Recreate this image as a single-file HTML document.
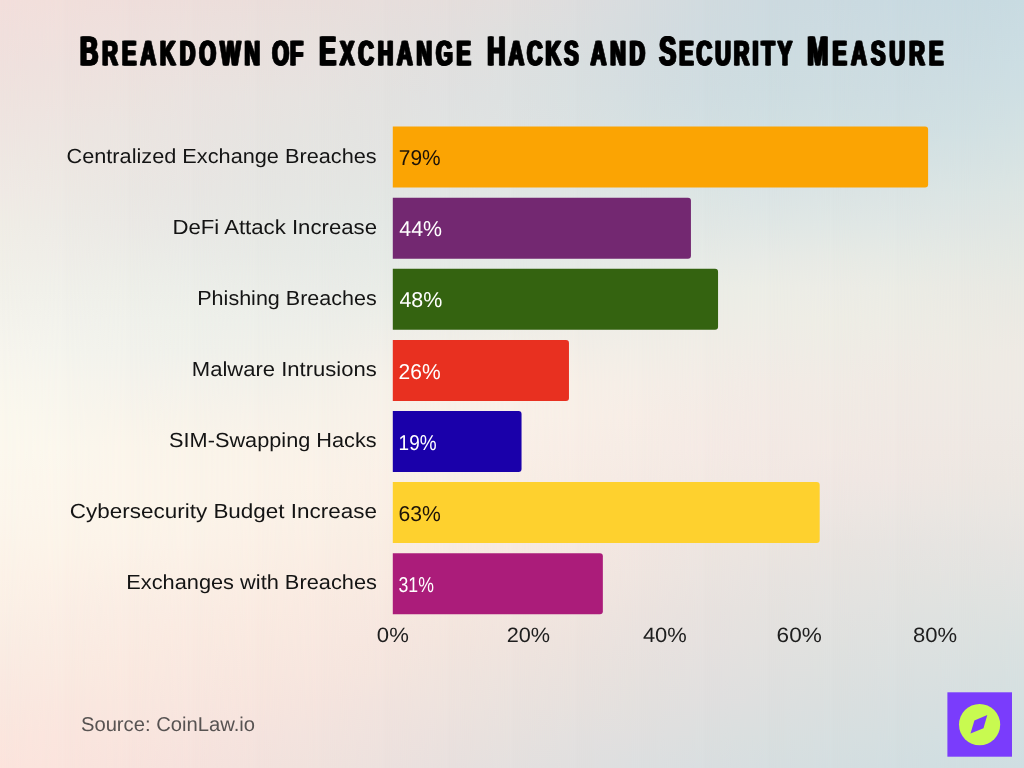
<!DOCTYPE html>
<html lang="en"><head><meta charset="utf-8"><title>Breakdown of Exchange Hacks and Security Measure</title>
<style>
html,body{margin:0;padding:0;background:#EDE6E2;}
body{width:1024px;height:768px;overflow:hidden;}
svg{display:block}
text{font-family:"Liberation Sans",sans-serif;text-rendering:geometricPrecision;}
.ttl{font-weight:700;font-size:40.8px;fill:#060606;stroke:#060606;stroke-width:0.8px;stroke-linejoin:miter;stroke-miterlimit:1.5;}
.ttl .sc{font-size:34.7px;text-transform:uppercase;}
.lab{font-size:20.4px;fill:#141414;}
.val{font-size:21.5px;}
.ax{font-size:20.7px;fill:#1e1e1e;}
.src{font-size:20.0px;fill:#575352;}
</style></head><body>
<svg width="1024" height="768" viewBox="0 0 1024 768" role="img" aria-label="Breakdown of Exchange Hacks and Security Measure">
<defs>
<linearGradient id="c0" x1="0" y1="0" x2="0" y2="1"><stop offset="0.0000" stop-color="#F3DFDC"/><stop offset="0.0417" stop-color="#F1E0DD"/><stop offset="0.0833" stop-color="#F0E1DE"/><stop offset="0.1250" stop-color="#EFE3DF"/><stop offset="0.1667" stop-color="#EFE5E1"/><stop offset="0.2083" stop-color="#EFE8E3"/><stop offset="0.2500" stop-color="#F0EAE5"/><stop offset="0.2917" stop-color="#F0EDE6"/><stop offset="0.3333" stop-color="#F1EFE8"/><stop offset="0.3750" stop-color="#F2F1EA"/><stop offset="0.4167" stop-color="#F4F3EC"/><stop offset="0.4583" stop-color="#F7F5EE"/><stop offset="0.5000" stop-color="#F9F7EE"/><stop offset="0.5417" stop-color="#FBF8EE"/><stop offset="0.5833" stop-color="#FCF8EE"/><stop offset="0.6250" stop-color="#FCF7ED"/><stop offset="0.6667" stop-color="#FCF6EC"/><stop offset="0.7083" stop-color="#FCF4EA"/><stop offset="0.7500" stop-color="#FCF2E8"/><stop offset="0.7917" stop-color="#FBF0E6"/><stop offset="0.8333" stop-color="#FAEDE4"/><stop offset="0.8750" stop-color="#FAEAE2"/><stop offset="0.9167" stop-color="#FAE8E0"/><stop offset="0.9583" stop-color="#FBE6DE"/><stop offset="1.0000" stop-color="#FCE4DD"/></linearGradient>
<linearGradient id="c1" x1="0" y1="0" x2="0" y2="1"><stop offset="0.0000" stop-color="#F1DFDB"/><stop offset="0.0417" stop-color="#F0E0DD"/><stop offset="0.0833" stop-color="#EEE1DE"/><stop offset="0.1250" stop-color="#EEE3DF"/><stop offset="0.1667" stop-color="#EDE5E1"/><stop offset="0.2083" stop-color="#EDE7E2"/><stop offset="0.2500" stop-color="#EDE9E4"/><stop offset="0.2917" stop-color="#EDEBE6"/><stop offset="0.3333" stop-color="#EFEDE8"/><stop offset="0.3750" stop-color="#F0F0EA"/><stop offset="0.4167" stop-color="#F2F2EC"/><stop offset="0.4583" stop-color="#F4F4ED"/><stop offset="0.5000" stop-color="#F7F5ED"/><stop offset="0.5417" stop-color="#F9F6ED"/><stop offset="0.5833" stop-color="#FBF7ED"/><stop offset="0.6250" stop-color="#FCF6EC"/><stop offset="0.6667" stop-color="#FCF5EB"/><stop offset="0.7083" stop-color="#FCF4E9"/><stop offset="0.7500" stop-color="#FCF1E7"/><stop offset="0.7917" stop-color="#FBEEE5"/><stop offset="0.8333" stop-color="#FAECE3"/><stop offset="0.8750" stop-color="#FAEAE1"/><stop offset="0.9167" stop-color="#FAE7DF"/><stop offset="0.9583" stop-color="#FAE5DE"/><stop offset="1.0000" stop-color="#FAE4DD"/></linearGradient>
<linearGradient id="g1" gradientUnits="userSpaceOnUse" x1="0" y1="0" x2="64" y2="0"><stop offset="0" stop-color="#000"/><stop offset="1" stop-color="#fff"/></linearGradient>
<mask id="m1" maskUnits="userSpaceOnUse" x="0" y="0" width="1024" height="768"><rect x="0" width="1024" height="768" fill="url(#g1)"/></mask>
<linearGradient id="c2" x1="0" y1="0" x2="0" y2="1"><stop offset="0.0000" stop-color="#EFDEDB"/><stop offset="0.0417" stop-color="#EEE0DD"/><stop offset="0.0833" stop-color="#EDE1DE"/><stop offset="0.1250" stop-color="#ECE3DF"/><stop offset="0.1667" stop-color="#EBE5E1"/><stop offset="0.2083" stop-color="#EBE6E2"/><stop offset="0.2500" stop-color="#EAE7E3"/><stop offset="0.2917" stop-color="#EBE9E5"/><stop offset="0.3333" stop-color="#ECECE7"/><stop offset="0.3750" stop-color="#EEEFE9"/><stop offset="0.4167" stop-color="#F0F1EB"/><stop offset="0.4583" stop-color="#F2F2EC"/><stop offset="0.5000" stop-color="#F5F3EC"/><stop offset="0.5417" stop-color="#F8F4EB"/><stop offset="0.5833" stop-color="#FBF5EB"/><stop offset="0.6250" stop-color="#FCF5EB"/><stop offset="0.6667" stop-color="#FCF5EA"/><stop offset="0.7083" stop-color="#FCF3E9"/><stop offset="0.7500" stop-color="#FBF0E6"/><stop offset="0.7917" stop-color="#FAEDE4"/><stop offset="0.8333" stop-color="#FAEBE2"/><stop offset="0.8750" stop-color="#FAE9E0"/><stop offset="0.9167" stop-color="#F9E7DF"/><stop offset="0.9583" stop-color="#F9E5DE"/><stop offset="1.0000" stop-color="#F8E3DD"/></linearGradient>
<linearGradient id="g2" gradientUnits="userSpaceOnUse" x1="64" y1="0" x2="128" y2="0"><stop offset="0" stop-color="#000"/><stop offset="1" stop-color="#fff"/></linearGradient>
<mask id="m2" maskUnits="userSpaceOnUse" x="64" y="0" width="960" height="768"><rect x="64" width="960" height="768" fill="url(#g2)"/></mask>
<linearGradient id="c3" x1="0" y1="0" x2="0" y2="1"><stop offset="0.0000" stop-color="#EDDEDB"/><stop offset="0.0417" stop-color="#ECE0DD"/><stop offset="0.0833" stop-color="#EBE1DE"/><stop offset="0.1250" stop-color="#EAE3E0"/><stop offset="0.1667" stop-color="#E9E4E1"/><stop offset="0.2083" stop-color="#E9E5E2"/><stop offset="0.2500" stop-color="#E8E6E3"/><stop offset="0.2917" stop-color="#E8E8E5"/><stop offset="0.3333" stop-color="#EAEBE7"/><stop offset="0.3750" stop-color="#ECEEE9"/><stop offset="0.4167" stop-color="#EEF0EA"/><stop offset="0.4583" stop-color="#F0F1EB"/><stop offset="0.5000" stop-color="#F4F2EB"/><stop offset="0.5417" stop-color="#F7F3EA"/><stop offset="0.5833" stop-color="#FAF4EA"/><stop offset="0.6250" stop-color="#FBF4EA"/><stop offset="0.6667" stop-color="#FBF4E9"/><stop offset="0.7083" stop-color="#FBF2E8"/><stop offset="0.7500" stop-color="#FBEFE5"/><stop offset="0.7917" stop-color="#FAECE3"/><stop offset="0.8333" stop-color="#FAEAE1"/><stop offset="0.8750" stop-color="#F9E8E0"/><stop offset="0.9167" stop-color="#F8E6DF"/><stop offset="0.9583" stop-color="#F7E4DE"/><stop offset="1.0000" stop-color="#F6E2DD"/></linearGradient>
<linearGradient id="g3" gradientUnits="userSpaceOnUse" x1="128" y1="0" x2="192" y2="0"><stop offset="0" stop-color="#000"/><stop offset="1" stop-color="#fff"/></linearGradient>
<mask id="m3" maskUnits="userSpaceOnUse" x="128" y="0" width="896" height="768"><rect x="128" width="896" height="768" fill="url(#g3)"/></mask>
<linearGradient id="c4" x1="0" y1="0" x2="0" y2="1"><stop offset="0.0000" stop-color="#EBDEDB"/><stop offset="0.0417" stop-color="#EAE0DD"/><stop offset="0.0833" stop-color="#E9E1DE"/><stop offset="0.1250" stop-color="#E8E3E0"/><stop offset="0.1667" stop-color="#E7E4E1"/><stop offset="0.2083" stop-color="#E6E5E2"/><stop offset="0.2500" stop-color="#E6E6E3"/><stop offset="0.2917" stop-color="#E7E8E4"/><stop offset="0.3333" stop-color="#E8EAE6"/><stop offset="0.3750" stop-color="#EBEDE8"/><stop offset="0.4167" stop-color="#EDEFEA"/><stop offset="0.4583" stop-color="#F0F0EA"/><stop offset="0.5000" stop-color="#F3F1EA"/><stop offset="0.5417" stop-color="#F7F2EA"/><stop offset="0.5833" stop-color="#FAF3E9"/><stop offset="0.6250" stop-color="#FBF3E9"/><stop offset="0.6667" stop-color="#FBF2E8"/><stop offset="0.7083" stop-color="#FBF0E6"/><stop offset="0.7500" stop-color="#FAEEE4"/><stop offset="0.7917" stop-color="#FAEBE2"/><stop offset="0.8333" stop-color="#F9E9E0"/><stop offset="0.8750" stop-color="#F8E7DF"/><stop offset="0.9167" stop-color="#F7E5DE"/><stop offset="0.9583" stop-color="#F5E3DE"/><stop offset="1.0000" stop-color="#F3E2DD"/></linearGradient>
<linearGradient id="g4" gradientUnits="userSpaceOnUse" x1="192" y1="0" x2="256" y2="0"><stop offset="0" stop-color="#000"/><stop offset="1" stop-color="#fff"/></linearGradient>
<mask id="m4" maskUnits="userSpaceOnUse" x="192" y="0" width="832" height="768"><rect x="192" width="832" height="768" fill="url(#g4)"/></mask>
<linearGradient id="c5" x1="0" y1="0" x2="0" y2="1"><stop offset="0.0000" stop-color="#E9DEDB"/><stop offset="0.0417" stop-color="#E8E0DD"/><stop offset="0.0833" stop-color="#E7E1DF"/><stop offset="0.1250" stop-color="#E6E3E0"/><stop offset="0.1667" stop-color="#E5E4E1"/><stop offset="0.2083" stop-color="#E5E5E2"/><stop offset="0.2500" stop-color="#E5E6E3"/><stop offset="0.2917" stop-color="#E5E8E5"/><stop offset="0.3333" stop-color="#E7EAE6"/><stop offset="0.3750" stop-color="#EAECE8"/><stop offset="0.4167" stop-color="#EDEEE9"/><stop offset="0.4583" stop-color="#F0F0E9"/><stop offset="0.5000" stop-color="#F4F1E9"/><stop offset="0.5417" stop-color="#F7F2E9"/><stop offset="0.5833" stop-color="#F9F2E9"/><stop offset="0.6250" stop-color="#FBF2E8"/><stop offset="0.6667" stop-color="#FAF1E7"/><stop offset="0.7083" stop-color="#FAEFE5"/><stop offset="0.7500" stop-color="#FAECE3"/><stop offset="0.7917" stop-color="#F9EAE1"/><stop offset="0.8333" stop-color="#F8E8E0"/><stop offset="0.8750" stop-color="#F7E6DF"/><stop offset="0.9167" stop-color="#F5E4DE"/><stop offset="0.9583" stop-color="#F2E3DE"/><stop offset="1.0000" stop-color="#F0E2DD"/></linearGradient>
<linearGradient id="g5" gradientUnits="userSpaceOnUse" x1="256" y1="0" x2="320" y2="0"><stop offset="0" stop-color="#000"/><stop offset="1" stop-color="#fff"/></linearGradient>
<mask id="m5" maskUnits="userSpaceOnUse" x="256" y="0" width="768" height="768"><rect x="256" width="768" height="768" fill="url(#g5)"/></mask>
<linearGradient id="c6" x1="0" y1="0" x2="0" y2="1"><stop offset="0.0000" stop-color="#E7DEDC"/><stop offset="0.0417" stop-color="#E5DFDD"/><stop offset="0.0833" stop-color="#E4E1DF"/><stop offset="0.1250" stop-color="#E3E2E0"/><stop offset="0.1667" stop-color="#E3E3E1"/><stop offset="0.2083" stop-color="#E3E4E2"/><stop offset="0.2500" stop-color="#E3E6E3"/><stop offset="0.2917" stop-color="#E4E8E5"/><stop offset="0.3333" stop-color="#E6EAE6"/><stop offset="0.3750" stop-color="#E9ECE7"/><stop offset="0.4167" stop-color="#EDEEE8"/><stop offset="0.4583" stop-color="#F2EFE9"/><stop offset="0.5000" stop-color="#F6F1E9"/><stop offset="0.5417" stop-color="#F8F1E9"/><stop offset="0.5833" stop-color="#F9F1E8"/><stop offset="0.6250" stop-color="#FAF0E7"/><stop offset="0.6667" stop-color="#FAEFE5"/><stop offset="0.7083" stop-color="#F9EDE3"/><stop offset="0.7500" stop-color="#F9EBE2"/><stop offset="0.7917" stop-color="#F7E8E0"/><stop offset="0.8333" stop-color="#F6E6DF"/><stop offset="0.8750" stop-color="#F4E5DE"/><stop offset="0.9167" stop-color="#F1E3DE"/><stop offset="0.9583" stop-color="#EFE2DE"/><stop offset="1.0000" stop-color="#ECE1DE"/></linearGradient>
<linearGradient id="g6" gradientUnits="userSpaceOnUse" x1="320" y1="0" x2="384" y2="0"><stop offset="0" stop-color="#000"/><stop offset="1" stop-color="#fff"/></linearGradient>
<mask id="m6" maskUnits="userSpaceOnUse" x="320" y="0" width="704" height="768"><rect x="320" width="704" height="768" fill="url(#g6)"/></mask>
<linearGradient id="c7" x1="0" y1="0" x2="0" y2="1"><stop offset="0.0000" stop-color="#E5DEDC"/><stop offset="0.0417" stop-color="#E3DFDE"/><stop offset="0.0833" stop-color="#E1E0DF"/><stop offset="0.1250" stop-color="#E0E1E1"/><stop offset="0.1667" stop-color="#E0E3E2"/><stop offset="0.2083" stop-color="#E1E4E3"/><stop offset="0.2500" stop-color="#E2E6E4"/><stop offset="0.2917" stop-color="#E3E8E5"/><stop offset="0.3333" stop-color="#E5EAE6"/><stop offset="0.3750" stop-color="#E8EBE7"/><stop offset="0.4167" stop-color="#EDEDE8"/><stop offset="0.4583" stop-color="#F3EFE8"/><stop offset="0.5000" stop-color="#F7F0E8"/><stop offset="0.5417" stop-color="#F9F1E8"/><stop offset="0.5833" stop-color="#F9F0E7"/><stop offset="0.6250" stop-color="#F9EFE6"/><stop offset="0.6667" stop-color="#F9EDE4"/><stop offset="0.7083" stop-color="#F8EBE2"/><stop offset="0.7500" stop-color="#F7E9E1"/><stop offset="0.7917" stop-color="#F5E7DF"/><stop offset="0.8333" stop-color="#F3E5DE"/><stop offset="0.8750" stop-color="#F0E4DE"/><stop offset="0.9167" stop-color="#EEE3DE"/><stop offset="0.9583" stop-color="#EBE1DE"/><stop offset="1.0000" stop-color="#E8E0DE"/></linearGradient>
<linearGradient id="g7" gradientUnits="userSpaceOnUse" x1="384" y1="0" x2="448" y2="0"><stop offset="0" stop-color="#000"/><stop offset="1" stop-color="#fff"/></linearGradient>
<mask id="m7" maskUnits="userSpaceOnUse" x="384" y="0" width="640" height="768"><rect x="384" width="640" height="768" fill="url(#g7)"/></mask>
<linearGradient id="c8" x1="0" y1="0" x2="0" y2="1"><stop offset="0.0000" stop-color="#E2DEDD"/><stop offset="0.0417" stop-color="#DFDFDE"/><stop offset="0.0833" stop-color="#DEE0E0"/><stop offset="0.1250" stop-color="#DDE1E1"/><stop offset="0.1667" stop-color="#DEE2E2"/><stop offset="0.2083" stop-color="#DFE4E3"/><stop offset="0.2500" stop-color="#E1E6E4"/><stop offset="0.2917" stop-color="#E2E8E5"/><stop offset="0.3333" stop-color="#E4EAE6"/><stop offset="0.3750" stop-color="#E8EBE6"/><stop offset="0.4167" stop-color="#EDEDE7"/><stop offset="0.4583" stop-color="#F4EFE8"/><stop offset="0.5000" stop-color="#F8F0E8"/><stop offset="0.5417" stop-color="#F9F0E8"/><stop offset="0.5833" stop-color="#F9EFE7"/><stop offset="0.6250" stop-color="#F8EDE5"/><stop offset="0.6667" stop-color="#F8EBE3"/><stop offset="0.7083" stop-color="#F7E9E1"/><stop offset="0.7500" stop-color="#F6E8E0"/><stop offset="0.7917" stop-color="#F3E6DF"/><stop offset="0.8333" stop-color="#F0E4DE"/><stop offset="0.8750" stop-color="#EDE3DE"/><stop offset="0.9167" stop-color="#EAE2DE"/><stop offset="0.9583" stop-color="#E7E1DE"/><stop offset="1.0000" stop-color="#E4E0DF"/></linearGradient>
<linearGradient id="g8" gradientUnits="userSpaceOnUse" x1="448" y1="0" x2="512" y2="0"><stop offset="0" stop-color="#000"/><stop offset="1" stop-color="#fff"/></linearGradient>
<mask id="m8" maskUnits="userSpaceOnUse" x="448" y="0" width="576" height="768"><rect x="448" width="576" height="768" fill="url(#g8)"/></mask>
<linearGradient id="c9" x1="0" y1="0" x2="0" y2="1"><stop offset="0.0000" stop-color="#DDDDDE"/><stop offset="0.0417" stop-color="#DBDEDF"/><stop offset="0.0833" stop-color="#D9DFE0"/><stop offset="0.1250" stop-color="#D9E0E1"/><stop offset="0.1667" stop-color="#DAE1E2"/><stop offset="0.2083" stop-color="#DCE3E3"/><stop offset="0.2500" stop-color="#DFE6E4"/><stop offset="0.2917" stop-color="#E2E8E5"/><stop offset="0.3333" stop-color="#E5EAE6"/><stop offset="0.3750" stop-color="#E8ECE6"/><stop offset="0.4167" stop-color="#EEEDE7"/><stop offset="0.4583" stop-color="#F3EEE7"/><stop offset="0.5000" stop-color="#F7EFE7"/><stop offset="0.5417" stop-color="#F8EFE7"/><stop offset="0.5833" stop-color="#F8EDE6"/><stop offset="0.6250" stop-color="#F7ECE4"/><stop offset="0.6667" stop-color="#F6EAE2"/><stop offset="0.7083" stop-color="#F5E8E1"/><stop offset="0.7500" stop-color="#F3E6E0"/><stop offset="0.7917" stop-color="#F0E5DF"/><stop offset="0.8333" stop-color="#EDE3DE"/><stop offset="0.8750" stop-color="#EAE2DE"/><stop offset="0.9167" stop-color="#E7E1DE"/><stop offset="0.9583" stop-color="#E3E0DF"/><stop offset="1.0000" stop-color="#E0DFDF"/></linearGradient>
<linearGradient id="g9" gradientUnits="userSpaceOnUse" x1="512" y1="0" x2="576" y2="0"><stop offset="0" stop-color="#000"/><stop offset="1" stop-color="#fff"/></linearGradient>
<mask id="m9" maskUnits="userSpaceOnUse" x="512" y="0" width="512" height="768"><rect x="512" width="512" height="768" fill="url(#g9)"/></mask>
<linearGradient id="c10" x1="0" y1="0" x2="0" y2="1"><stop offset="0.0000" stop-color="#D7DCDF"/><stop offset="0.0417" stop-color="#D5DCDF"/><stop offset="0.0833" stop-color="#D4DDE0"/><stop offset="0.1250" stop-color="#D4DEE1"/><stop offset="0.1667" stop-color="#D5E0E2"/><stop offset="0.2083" stop-color="#D9E3E3"/><stop offset="0.2500" stop-color="#DDE5E4"/><stop offset="0.2917" stop-color="#E1E8E5"/><stop offset="0.3333" stop-color="#E6EAE6"/><stop offset="0.3750" stop-color="#EAECE6"/><stop offset="0.4167" stop-color="#EEEDE7"/><stop offset="0.4583" stop-color="#F2EEE7"/><stop offset="0.5000" stop-color="#F5EEE7"/><stop offset="0.5417" stop-color="#F7EDE6"/><stop offset="0.5833" stop-color="#F6ECE5"/><stop offset="0.6250" stop-color="#F5EAE4"/><stop offset="0.6667" stop-color="#F3E8E2"/><stop offset="0.7083" stop-color="#F1E6E1"/><stop offset="0.7500" stop-color="#EFE5E0"/><stop offset="0.7917" stop-color="#ECE3DF"/><stop offset="0.8333" stop-color="#E9E2DF"/><stop offset="0.8750" stop-color="#E6E1DE"/><stop offset="0.9167" stop-color="#E3E0DE"/><stop offset="0.9583" stop-color="#E0DFDF"/><stop offset="1.0000" stop-color="#DCDFE0"/></linearGradient>
<linearGradient id="g10" gradientUnits="userSpaceOnUse" x1="576" y1="0" x2="640" y2="0"><stop offset="0" stop-color="#000"/><stop offset="1" stop-color="#fff"/></linearGradient>
<mask id="m10" maskUnits="userSpaceOnUse" x="576" y="0" width="448" height="768"><rect x="576" width="448" height="768" fill="url(#g10)"/></mask>
<linearGradient id="c11" x1="0" y1="0" x2="0" y2="1"><stop offset="0.0000" stop-color="#D1DBDF"/><stop offset="0.0417" stop-color="#D0DBE0"/><stop offset="0.0833" stop-color="#D0DCE0"/><stop offset="0.1250" stop-color="#D0DDE1"/><stop offset="0.1667" stop-color="#D2DFE2"/><stop offset="0.2083" stop-color="#D6E2E3"/><stop offset="0.2500" stop-color="#DCE5E4"/><stop offset="0.2917" stop-color="#E1E7E5"/><stop offset="0.3333" stop-color="#E6EAE6"/><stop offset="0.3750" stop-color="#EBEDE6"/><stop offset="0.4167" stop-color="#EEEDE6"/><stop offset="0.4583" stop-color="#F1EDE6"/><stop offset="0.5000" stop-color="#F3ECE6"/><stop offset="0.5417" stop-color="#F4EBE5"/><stop offset="0.5833" stop-color="#F5EAE5"/><stop offset="0.6250" stop-color="#F3E9E3"/><stop offset="0.6667" stop-color="#F1E7E2"/><stop offset="0.7083" stop-color="#EDE5E0"/><stop offset="0.7500" stop-color="#EBE4E0"/><stop offset="0.7917" stop-color="#E8E2DF"/><stop offset="0.8333" stop-color="#E6E1DF"/><stop offset="0.8750" stop-color="#E3E0DF"/><stop offset="0.9167" stop-color="#E0DFDF"/><stop offset="0.9583" stop-color="#DCDFDF"/><stop offset="1.0000" stop-color="#D9DEE0"/></linearGradient>
<linearGradient id="g11" gradientUnits="userSpaceOnUse" x1="640" y1="0" x2="704" y2="0"><stop offset="0" stop-color="#000"/><stop offset="1" stop-color="#fff"/></linearGradient>
<mask id="m11" maskUnits="userSpaceOnUse" x="640" y="0" width="384" height="768"><rect x="640" width="384" height="768" fill="url(#g11)"/></mask>
<linearGradient id="c12" x1="0" y1="0" x2="0" y2="1"><stop offset="0.0000" stop-color="#CDDAE0"/><stop offset="0.0417" stop-color="#CDDBE0"/><stop offset="0.0833" stop-color="#CDDCE0"/><stop offset="0.1250" stop-color="#CEDDE1"/><stop offset="0.1667" stop-color="#D0DFE2"/><stop offset="0.2083" stop-color="#D5E1E3"/><stop offset="0.2500" stop-color="#DBE4E5"/><stop offset="0.2917" stop-color="#E0E7E5"/><stop offset="0.3333" stop-color="#E7EAE6"/><stop offset="0.3750" stop-color="#ECEDE6"/><stop offset="0.4167" stop-color="#EEEDE6"/><stop offset="0.4583" stop-color="#F0ECE6"/><stop offset="0.5000" stop-color="#F2EBE5"/><stop offset="0.5417" stop-color="#F3EAE5"/><stop offset="0.5833" stop-color="#F3E9E4"/><stop offset="0.6250" stop-color="#F2E8E3"/><stop offset="0.6667" stop-color="#EEE6E2"/><stop offset="0.7083" stop-color="#EBE5E0"/><stop offset="0.7500" stop-color="#E8E3E0"/><stop offset="0.7917" stop-color="#E5E2DF"/><stop offset="0.8333" stop-color="#E3E1DF"/><stop offset="0.8750" stop-color="#E0E0DF"/><stop offset="0.9167" stop-color="#DDDFDF"/><stop offset="0.9583" stop-color="#D9DFDF"/><stop offset="1.0000" stop-color="#D6DEE0"/></linearGradient>
<linearGradient id="g12" gradientUnits="userSpaceOnUse" x1="704" y1="0" x2="768" y2="0"><stop offset="0" stop-color="#000"/><stop offset="1" stop-color="#fff"/></linearGradient>
<mask id="m12" maskUnits="userSpaceOnUse" x="704" y="0" width="320" height="768"><rect x="704" width="320" height="768" fill="url(#g12)"/></mask>
<linearGradient id="c13" x1="0" y1="0" x2="0" y2="1"><stop offset="0.0000" stop-color="#CBDAE0"/><stop offset="0.0417" stop-color="#CCDBE1"/><stop offset="0.0833" stop-color="#CDDCE1"/><stop offset="0.1250" stop-color="#CEDDE1"/><stop offset="0.1667" stop-color="#D0DFE2"/><stop offset="0.2083" stop-color="#D5E2E3"/><stop offset="0.2500" stop-color="#DBE4E4"/><stop offset="0.2917" stop-color="#E0E7E5"/><stop offset="0.3333" stop-color="#E7EAE5"/><stop offset="0.3750" stop-color="#ECECE6"/><stop offset="0.4167" stop-color="#EEEDE5"/><stop offset="0.4583" stop-color="#EFECE5"/><stop offset="0.5000" stop-color="#F1EBE5"/><stop offset="0.5417" stop-color="#F1EAE4"/><stop offset="0.5833" stop-color="#F2E9E4"/><stop offset="0.6250" stop-color="#F0E7E3"/><stop offset="0.6667" stop-color="#EDE6E2"/><stop offset="0.7083" stop-color="#E9E4E0"/><stop offset="0.7500" stop-color="#E6E3E0"/><stop offset="0.7917" stop-color="#E3E2E0"/><stop offset="0.8333" stop-color="#E0E1DF"/><stop offset="0.8750" stop-color="#DDE0DF"/><stop offset="0.9167" stop-color="#DADFDF"/><stop offset="0.9583" stop-color="#D7DFE0"/><stop offset="1.0000" stop-color="#D4DEE0"/></linearGradient>
<linearGradient id="g13" gradientUnits="userSpaceOnUse" x1="768" y1="0" x2="832" y2="0"><stop offset="0" stop-color="#000"/><stop offset="1" stop-color="#fff"/></linearGradient>
<mask id="m13" maskUnits="userSpaceOnUse" x="768" y="0" width="256" height="768"><rect x="768" width="256" height="768" fill="url(#g13)"/></mask>
<linearGradient id="c14" x1="0" y1="0" x2="0" y2="1"><stop offset="0.0000" stop-color="#C9DAE1"/><stop offset="0.0417" stop-color="#CBDBE1"/><stop offset="0.0833" stop-color="#CCDCE1"/><stop offset="0.1250" stop-color="#CEDDE2"/><stop offset="0.1667" stop-color="#D0DFE2"/><stop offset="0.2083" stop-color="#D5E2E3"/><stop offset="0.2500" stop-color="#DBE4E4"/><stop offset="0.2917" stop-color="#E0E7E5"/><stop offset="0.3333" stop-color="#E6EAE5"/><stop offset="0.3750" stop-color="#EBECE5"/><stop offset="0.4167" stop-color="#EDECE5"/><stop offset="0.4583" stop-color="#EFEBE5"/><stop offset="0.5000" stop-color="#F0EAE4"/><stop offset="0.5417" stop-color="#F0E9E4"/><stop offset="0.5833" stop-color="#F0E8E3"/><stop offset="0.6250" stop-color="#EFE7E3"/><stop offset="0.6667" stop-color="#EBE6E2"/><stop offset="0.7083" stop-color="#E7E4E1"/><stop offset="0.7500" stop-color="#E4E3E0"/><stop offset="0.7917" stop-color="#E1E2E0"/><stop offset="0.8333" stop-color="#DEE1E0"/><stop offset="0.8750" stop-color="#DBE0E0"/><stop offset="0.9167" stop-color="#D8DFE0"/><stop offset="0.9583" stop-color="#D5DFE0"/><stop offset="1.0000" stop-color="#D2DEE1"/></linearGradient>
<linearGradient id="g14" gradientUnits="userSpaceOnUse" x1="832" y1="0" x2="896" y2="0"><stop offset="0" stop-color="#000"/><stop offset="1" stop-color="#fff"/></linearGradient>
<mask id="m14" maskUnits="userSpaceOnUse" x="832" y="0" width="192" height="768"><rect x="832" width="192" height="768" fill="url(#g14)"/></mask>
<linearGradient id="c15" x1="0" y1="0" x2="0" y2="1"><stop offset="0.0000" stop-color="#C8DAE1"/><stop offset="0.0417" stop-color="#CADBE1"/><stop offset="0.0833" stop-color="#CCDCE2"/><stop offset="0.1250" stop-color="#CEDEE2"/><stop offset="0.1667" stop-color="#D1E0E3"/><stop offset="0.2083" stop-color="#D6E2E3"/><stop offset="0.2500" stop-color="#DBE5E4"/><stop offset="0.2917" stop-color="#E0E6E4"/><stop offset="0.3333" stop-color="#E5E9E4"/><stop offset="0.3750" stop-color="#EAEAE4"/><stop offset="0.4167" stop-color="#ECEBE4"/><stop offset="0.4583" stop-color="#EEEBE4"/><stop offset="0.5000" stop-color="#EFEAE4"/><stop offset="0.5417" stop-color="#EFE9E4"/><stop offset="0.5833" stop-color="#EFE8E3"/><stop offset="0.6250" stop-color="#EDE7E2"/><stop offset="0.6667" stop-color="#EAE6E2"/><stop offset="0.7083" stop-color="#E6E4E1"/><stop offset="0.7500" stop-color="#E3E3E0"/><stop offset="0.7917" stop-color="#DFE2E0"/><stop offset="0.8333" stop-color="#DCE1E0"/><stop offset="0.8750" stop-color="#D9E0E0"/><stop offset="0.9167" stop-color="#D6DFE0"/><stop offset="0.9583" stop-color="#D3DFE1"/><stop offset="1.0000" stop-color="#D0DEE1"/></linearGradient>
<linearGradient id="g15" gradientUnits="userSpaceOnUse" x1="896" y1="0" x2="960" y2="0"><stop offset="0" stop-color="#000"/><stop offset="1" stop-color="#fff"/></linearGradient>
<mask id="m15" maskUnits="userSpaceOnUse" x="896" y="0" width="128" height="768"><rect x="896" width="128" height="768" fill="url(#g15)"/></mask>
<linearGradient id="c16" x1="0" y1="0" x2="0" y2="1"><stop offset="0.0000" stop-color="#C8DBE1"/><stop offset="0.0417" stop-color="#CADCE2"/><stop offset="0.0833" stop-color="#CCDEE3"/><stop offset="0.1250" stop-color="#CFDFE3"/><stop offset="0.1667" stop-color="#D3E1E3"/><stop offset="0.2083" stop-color="#D7E3E3"/><stop offset="0.2500" stop-color="#DCE5E3"/><stop offset="0.2917" stop-color="#E0E6E3"/><stop offset="0.3333" stop-color="#E4E8E3"/><stop offset="0.3750" stop-color="#E8E9E3"/><stop offset="0.4167" stop-color="#EBE9E3"/><stop offset="0.4583" stop-color="#EEEAE4"/><stop offset="0.5000" stop-color="#EEEAE4"/><stop offset="0.5417" stop-color="#EEE9E4"/><stop offset="0.5833" stop-color="#EDE8E3"/><stop offset="0.6250" stop-color="#ECE7E2"/><stop offset="0.6667" stop-color="#E9E6E2"/><stop offset="0.7083" stop-color="#E6E4E1"/><stop offset="0.7500" stop-color="#E2E3E1"/><stop offset="0.7917" stop-color="#DEE2E0"/><stop offset="0.8333" stop-color="#DAE1E0"/><stop offset="0.8750" stop-color="#D7E0E0"/><stop offset="0.9167" stop-color="#D4E0E0"/><stop offset="0.9583" stop-color="#D1DFE1"/><stop offset="1.0000" stop-color="#CFDEE2"/></linearGradient>
<linearGradient id="g16" gradientUnits="userSpaceOnUse" x1="960" y1="0" x2="1024" y2="0"><stop offset="0" stop-color="#000"/><stop offset="1" stop-color="#fff"/></linearGradient>
<mask id="m16" maskUnits="userSpaceOnUse" x="960" y="0" width="64" height="768"><rect x="960" width="64" height="768" fill="url(#g16)"/></mask>
<filter id="fat" filterUnits="userSpaceOnUse" x="0" y="0" width="1100" height="100"><feOffset dx="0.78" result="a"/><feOffset in="SourceGraphic" dx="-0.78" result="b"/><feMerge><feMergeNode in="a"/><feMergeNode in="b"/><feMergeNode in="SourceGraphic"/></feMerge></filter>
</defs>
<rect width="1024" height="768" fill="url(#c0)"/>
<rect x="0" width="1024" height="768" fill="url(#c1)" mask="url(#m1)"/>
<rect x="64" width="960" height="768" fill="url(#c2)" mask="url(#m2)"/>
<rect x="128" width="896" height="768" fill="url(#c3)" mask="url(#m3)"/>
<rect x="192" width="832" height="768" fill="url(#c4)" mask="url(#m4)"/>
<rect x="256" width="768" height="768" fill="url(#c5)" mask="url(#m5)"/>
<rect x="320" width="704" height="768" fill="url(#c6)" mask="url(#m6)"/>
<rect x="384" width="640" height="768" fill="url(#c7)" mask="url(#m7)"/>
<rect x="448" width="576" height="768" fill="url(#c8)" mask="url(#m8)"/>
<rect x="512" width="512" height="768" fill="url(#c9)" mask="url(#m9)"/>
<rect x="576" width="448" height="768" fill="url(#c10)" mask="url(#m10)"/>
<rect x="640" width="384" height="768" fill="url(#c11)" mask="url(#m11)"/>
<rect x="704" width="320" height="768" fill="url(#c12)" mask="url(#m12)"/>
<rect x="768" width="256" height="768" fill="url(#c13)" mask="url(#m13)"/>
<rect x="832" width="192" height="768" fill="url(#c14)" mask="url(#m14)"/>
<rect x="896" width="128" height="768" fill="url(#c15)" mask="url(#m15)"/>
<rect x="960" width="64" height="768" fill="url(#c16)" mask="url(#m16)"/>
<g filter="url(#fat)">
<text class="ttl" transform="translate(79.95,65.0) scale(0.62,1)" textLength="290.62" lengthAdjust="spacing">B<tspan class="sc">reakdown</tspan></text>
<text class="ttl" transform="translate(272.29,65.0) scale(0.62,1)" textLength="49.98" lengthAdjust="spacing"><tspan class="sc">of</tspan></text>
<text class="ttl" transform="translate(319.25,65.0) scale(0.62,1)" textLength="244.52" lengthAdjust="spacing">E<tspan class="sc">xchange</tspan></text>
<text class="ttl" transform="translate(487.15,65.0) scale(0.62,1)" textLength="147.32" lengthAdjust="spacing">H<tspan class="sc">acks</tspan></text>
<text class="ttl" transform="translate(590.77,65.0) scale(0.62,1)" textLength="87.71" lengthAdjust="spacing"><tspan class="sc">and</tspan></text>
<text class="ttl" transform="translate(659.20,65.0) scale(0.62,1)" textLength="214.44" lengthAdjust="spacing">S<tspan class="sc">ecurity</tspan></text>
<text class="ttl" transform="translate(807.25,65.0) scale(0.62,1)" textLength="219.70" lengthAdjust="spacing">M<tspan class="sc">easure</tspan></text>
</g>
<path d="M392.80 126.60h532.30a3 3 0 0 1 3 3v55.00a3 3 0 0 1 -3 3h-532.30z" fill="#FBA403"/>
<text class="lab" x="66.50" y="163.0" textLength="310.22" lengthAdjust="spacingAndGlyphs">Centralized Exchange Breaches</text>
<text class="val" x="398.78" y="165.0" textLength="41.81" lengthAdjust="spacingAndGlyphs" fill="#1c1208">79%</text>
<path d="M392.80 197.70h295.14a3 3 0 0 1 3 3v55.00a3 3 0 0 1 -3 3h-295.14z" fill="#732871"/>
<text class="lab" x="172.42" y="234.0" textLength="204.61" lengthAdjust="spacingAndGlyphs">DeFi Attack Increase</text>
<text class="val" x="399.30" y="236.0" textLength="42.74" lengthAdjust="spacingAndGlyphs" fill="#ffffff">44%</text>
<path d="M392.80 268.80h322.25a3 3 0 0 1 3 3v55.00a3 3 0 0 1 -3 3h-322.25z" fill="#346310"/>
<text class="lab" x="197.27" y="305.0" textLength="179.49" lengthAdjust="spacingAndGlyphs">Phishing Breaches</text>
<text class="val" x="399.43" y="307.0" textLength="42.97" lengthAdjust="spacingAndGlyphs" fill="#ffffff">48%</text>
<path d="M392.80 339.90h173.17a3 3 0 0 1 3 3v55.00a3 3 0 0 1 -3 3h-173.17z" fill="#E83020"/>
<text class="lab" x="191.81" y="376.0" textLength="184.98" lengthAdjust="spacingAndGlyphs">Malware Intrusions</text>
<text class="val" x="398.60" y="379.0" textLength="42.06" lengthAdjust="spacingAndGlyphs" fill="#ffffff">26%</text>
<path d="M392.80 411.00h125.74a3 3 0 0 1 3 3v55.00a3 3 0 0 1 -3 3h-125.74z" fill="#1A00AA"/>
<text class="lab" x="169.12" y="447.0" textLength="207.57" lengthAdjust="spacingAndGlyphs">SIM-Swapping Hacks</text>
<text class="val" x="398.62" y="450.0" textLength="38.02" lengthAdjust="spacingAndGlyphs" fill="#ffffff">19%</text>
<path d="M392.80 482.10h423.88a3 3 0 0 1 3 3v55.00a3 3 0 0 1 -3 3h-423.88z" fill="#FED12E"/>
<text class="lab" x="69.81" y="518.0" textLength="307.21" lengthAdjust="spacingAndGlyphs">Cybersecurity Budget Increase</text>
<text class="val" x="398.41" y="521.0" textLength="42.33" lengthAdjust="spacingAndGlyphs" fill="#1c1208">63%</text>
<path d="M392.80 553.20h207.05a3 3 0 0 1 3 3v55.00a3 3 0 0 1 -3 3h-207.05z" fill="#AB1C7A"/>
<text class="lab" x="126.24" y="589.0" textLength="250.66" lengthAdjust="spacingAndGlyphs">Exchanges with Breaches</text>
<text class="val" x="398.56" y="592.0" textLength="35.34" lengthAdjust="spacingAndGlyphs" fill="#ffffff">31%</text>
<text class="ax" x="376.88" y="641.8" textLength="31.95" lengthAdjust="spacingAndGlyphs">0%</text>
<text class="ax" x="506.74" y="641.8" textLength="43.38" lengthAdjust="spacingAndGlyphs">20%</text>
<text class="ax" x="642.91" y="641.8" textLength="43.86" lengthAdjust="spacingAndGlyphs">40%</text>
<text class="ax" x="776.58" y="641.8" textLength="45.16" lengthAdjust="spacingAndGlyphs">60%</text>
<text class="ax" x="912.93" y="641.8" textLength="44.13" lengthAdjust="spacingAndGlyphs">80%</text>
<text class="src" x="80.93" y="731.2" textLength="174.10" lengthAdjust="spacingAndGlyphs">Source: CoinLaw.io</text>
<rect x="947.4" y="692.3" width="64.6" height="64.4" fill="#7A3CFC"/>
<circle cx="979.6" cy="724.6" r="20.6" fill="#C8FA50"/>
<path d="M987.3 715L983.5 728.2L970.5 733.5L974.4 720.4Z" fill="#7A3CFC"/>
</svg>
</body></html>
